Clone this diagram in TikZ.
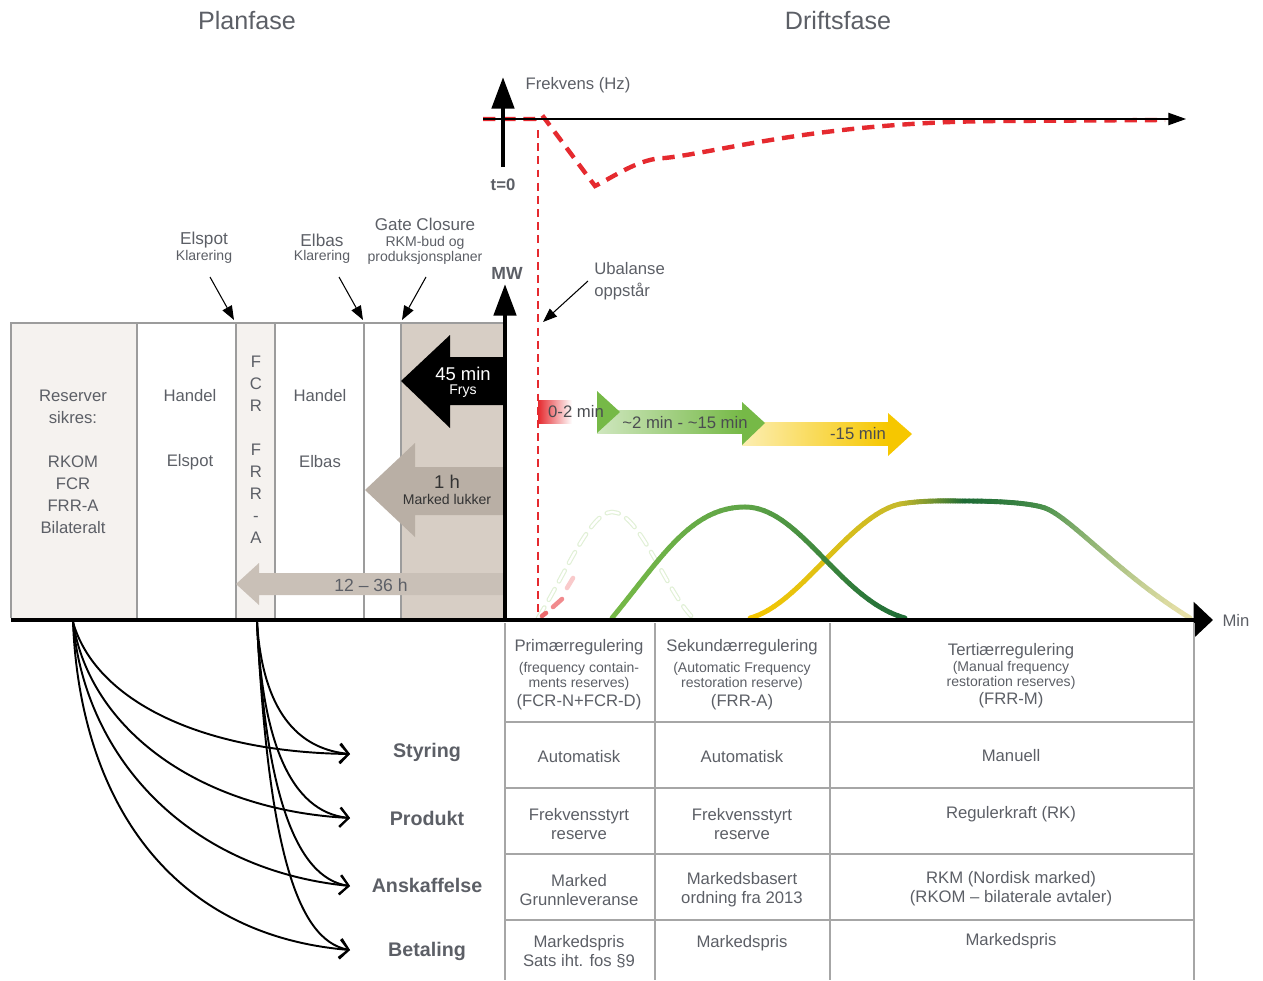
\documentclass[tikz,border=0pt]{standalone}
\usepackage{fontspec}
\setmainfont{Liberation Sans}
\usepackage{tikz}
\usetikzlibrary{arrows.meta, positioning}
\usepackage{xcolor}
\definecolor{txtgray}{HTML}{5C5F66}
\definecolor{bartxt}{HTML}{4A4C50}
\definecolor{boxline}{HTML}{9C9C9C}
\definecolor{boxlight}{HTML}{F5F2EF}
\definecolor{boxtan}{HTML}{D7CEC5}
\definecolor{arrtan}{HTML}{B9AFA5}
\definecolor{arrpale}{HTML}{C9C0B7}
\definecolor{freqred}{HTML}{E52A2F}
\definecolor{frcgreen}{HTML}{76B947}
\definecolor{midgreen}{HTML}{5FA447}
\definecolor{deepgreen}{HTML}{1D6B35}
\definecolor{olivegreen}{HTML}{C6B92C}
\definecolor{fadegreen}{HTML}{4C924C}
\definecolor{sunyellow}{HTML}{F6C700}
\definecolor{paleend}{HTML}{EEE4AC}
\definecolor{tabline}{HTML}{A6A6A6}

% colour running along one bezier piece
\newcommand{\gradcurve}[6]{%
	\foreach \i in {0,...,24}{%
		\pgfmathsetmacro{\ta}{\i/25}%
		\pgfmathsetmacro{\tb}{(\i+1)/25}%
		\pgfmathtruncatemacro{\mixp}{100-4*\i}%
		\colorlet{segcol}{#1!\mixp!#2}%
		\pgfsetstrokecolor{segcol}%
		\pgfpathcurvebetweentime{\ta}{\tb}{\pgfpointanchor{#3}{center}}{\pgfpointanchor{#4}{center}}{\pgfpointanchor{#5}{center}}{\pgfpointanchor{#6}{center}}%
		\pgfusepath{stroke}%
	}%
}

\tikzset{%
	txt/.style={text=txtgray, font=\fontsize{9.5}{12.5}\selectfont, inner sep=0pt},
	stagetxt/.style={txt, align=center},
	celltxt/.style={text=txtgray, font=\fontsize{9.5}{10.8}\selectfont, inner sep=0pt, align=center},
	smalltxt/.style={text=txtgray, font=\fontsize{8}{8.5}\selectfont, inner sep=0pt, align=center},
	phase/.style={text=txtgray, font=\fontsize{14.3}{16}\selectfont, inner sep=0pt},
	rowlbl/.style={text=txtgray, font=\fontsize{11.2}{13}\selectfont\bfseries, inner sep=0pt},
	bartext/.style={text=bartxt, font=\fontsize{9.5}{11}\selectfont, inner sep=0pt},
	mainaxis/.style={line width=2.8pt, -{Triangle[length=18pt,width=12.5pt]}},
	pointer/.style={line width=0.6pt, -{Triangle[length=8pt,width=6pt]}},
	fan/.style={line width=1.1pt, -{Straight Barb[length=5pt,width=11pt]}},
	freq/.style={freqred, line width=2.5pt, dash pattern=on 7pt off 4.5pt},
	stage/.style={draw=boxline, line width=0.8pt},
	tabrule/.style={tabline, line width=1.3pt},
}

\begin{document}
\begin{tikzpicture}[x=0.02cm, y=-0.02cm]
	\useasboundingbox (0,0) rectangle (1263,980);
	
	% Phase headings
	\node[phase] (plan) at (247,21) {Planfase};
	\node[phase] (drift) at (838,21) {Driftsfase};
	
	% Planning stages
	\fill[boxlight] (11,323) rectangle (137,618);
	\fill[boxlight] (236,323) rectangle (275,618);
	\fill[boxtan] (401,323) rectangle (503,618);
	\draw[stage] (11,618) -- (11,323) -- (503,323);
	\foreach \x in {137,236,275,364,401}
		\draw[stage] (\x,323) -- (\x,618);
	
	\node[stagetxt] (rsv) at (73,462) {Reserver\\sikres:\\[12.5pt]RKOM\\FCR\\FRR-A\\Bilateralt};
	\node[txt] (hspot) at (190,396) {Handel};
	\node[txt] (spot) at (190,462) {Elspot};
	\node[stagetxt] (fcrfrr) at (256,450) {F\\C\\R\\[12.5pt]F\\R\\R\\-\\A};
	\node[txt] (hbas) at (320,396) {Handel};
	\node[txt] (bas) at (320,462) {Elbas};
	
	% Lead time arrows
	\fill[arrpale] (503,573) -- (259,573) -- (259,563) -- (236,584) -- (259,605) -- (259,595) -- (503,595) -- cycle;
	\node[txt, font=\fontsize{10}{12}\selectfont] (lead) at (371,585) {12 -- 36 h};
	\fill[arrtan] (503,467) -- (415,467) -- (415,443) -- (365,490) -- (415,537) -- (415,515) -- (503,515) -- cycle;
	\node[bartext, text=black!80, font=\fontsize{10.5}{12}\selectfont] (close) at (447,482) {1 h};
	\node[smalltxt, text=black!80] (closelbl) at (447,499) {Marked lukker};
	\fill[black] (503,357) -- (450,357) -- (450,335) -- (401,381) -- (450,428) -- (450,405) -- (503,405) -- cycle;
	\node[bartext, text=white, font=\fontsize{10.5}{12}\selectfont] (frz) at (463,374) {45 min};
	\node[smalltxt, text=white] (frzlbl) at (463,391) {Frys};
	
	% Market milestones
	\node[txt, font=\fontsize{9.8}{11}\selectfont] (spotclr) at (204,240) {Elspot};
	\node[smalltxt] (spotclr2) at (204,257) {Klarering};
	\node[txt, font=\fontsize{9.8}{11}\selectfont] (basclr) at (322,240) {Elbas};
	\node[smalltxt] (basclr2) at (322,257) {Klarering};
	\node[txt, font=\fontsize{9.7}{11}\selectfont] (gate) at (425,224) {Gate Closure};
	\node[smalltxt] (gate2) at (425,250) {RKM-bud og\\produksjonsplaner};
	\coordinate (spotfrom) at (210,277);
	\coordinate (spotto) at (234,320);
	\coordinate (basfrom) at (339,277);
	\coordinate (basto) at (363,320);
	\coordinate (gatefrom) at (426,277);
	\coordinate (gateto) at (402,320);
	\draw[pointer] (spotfrom) -- (spotto);
	\draw[pointer] (basfrom) -- (basto);
	\draw[pointer] (gatefrom) -- (gateto);
	
	% Frequency response
	\draw[freq] (483,119) -- (535,119) -- (542,115) -- (548,123) -- (595,186) .. controls (615,176) and (640,158) .. (665,158) .. controls (720,152) and (820,122) .. (1000,121) -- (1165,120);
	\coordinate (tl) at (483,119);
	\coordinate (tr) at (1186,119);
	\draw[line width=0.6pt, -{Triangle[length=10pt,width=7pt]}] (tl) -- (tr);
	\coordinate (f0) at (503,167);
	\coordinate (ftop) at (503,77);
	\draw[mainaxis] (f0) -- (ftop);
	\node[txt] (hz) at (578,85) {Frekvens (Hz)};
	\node[txt, font=\fontsize{9.5}{11}\selectfont\bfseries] (tnull) at (503,185) {t=0};
	\draw[freqred, line width=1.2pt, dash pattern=on 4.5pt off 3pt] (538,130) -- (538,618);
	
	% Imbalance
	\node[txt, align=left, anchor=west] (ubal) at (594,281) {Ubalanse\\oppstår};
	\coordinate (ubalfrom) at (588,281);
	\coordinate (ubalto) at (543,322);
	\draw[pointer] (ubalfrom) -- (ubalto);
	
	% Activation time bars
	\shade[left color=freqred, right color=white] (538,400) rectangle (572,423);
	\shade[left color=frcgreen!35, right color=frcgreen] (597,410) rectangle (742,433);
	\fill[frcgreen] (597,391) -- (620,412) -- (597,433) -- cycle;
	\shade[left color=sunyellow!30, right color=sunyellow] (742,422) rectangle (888,445);
	\fill[frcgreen] (742,402) -- (765,423) -- (742,445) -- cycle;
	\fill[sunyellow] (888,413) -- (912,434) -- (888,456) -- cycle;
	\node[bartext] (t02) at (576,412) {0-2 min};
	\node[bartext] (t215) at (685,423) {\textasciitilde 2 min - \textasciitilde 15 min};
	\node[bartext] (t15) at (858,434) {-15 min};
	
	% Activated power
	\draw[frcgreen!22, line width=2.6pt, dash pattern=on 7pt off 5pt, line cap=round] (538,618) .. controls (565,575) and (590,512) .. (612,512) .. controls (640,512) and (665,590) .. (693,618);
	\draw[white, line width=1.3pt, dash pattern=on 7pt off 5pt, line cap=round] (538,618) .. controls (565,575) and (590,512) .. (612,512) .. controls (640,512) and (665,590) .. (693,618);
	\draw[freqred!70, line width=2.6pt, line cap=round] (542,616) -- (546,613);
	\draw[freqred!55, line width=2.6pt, line cap=round] (553,607) -- (562,599);
	\draw[freqred!25, line width=2.6pt, line cap=round] (567,588) -- (573,578);
	
	\coordinate (y0) at (750,618);
	\coordinate (y1) at (800,605);
	\coordinate (y2) at (850,515);
	\coordinate (y3) at (900,504);
	\coordinate (y4) at (925,500);
	\coordinate (y5) at (945,501);
	\coordinate (y6) at (965,501);
	\coordinate (y7) at (1000,501);
	\coordinate (y8) at (1030,503);
	\coordinate (y9) at (1045,508);
	\coordinate (y10) at (1070,517);
	\coordinate (y11) at (1120,575);
	\coordinate (y12) at (1190,618);
	\coordinate (g0) at (612,618);
	\coordinate (g1) at (660,560);
	\coordinate (g2) at (690,507);
	\coordinate (g3) at (745,507);
	\coordinate (g4) at (800,507);
	\coordinate (g5) at (840,600);
	\coordinate (g6) at (905,618);
	\begin{scope}[line width=2.8pt, line cap=round]
		\gradcurve{sunyellow}{olivegreen}{y0}{y1}{y2}{y3}
		\gradcurve{olivegreen}{deepgreen}{y3}{y4}{y5}{y6}
		\gradcurve{deepgreen}{fadegreen}{y6}{y7}{y8}{y9}
		\gradcurve{fadegreen}{paleend}{y9}{y10}{y11}{y12}
		\gradcurve{frcgreen}{midgreen}{g0}{g1}{g2}{g3}
		\gradcurve{midgreen}{deepgreen}{g3}{g4}{g5}{g6}
	\end{scope}
	
	% Axes
	\coordinate (origin) at (11,620);
	\coordinate (tend) at (1213,620);
	\draw[line width=2.8pt, -{Triangle[length=11pt,width=20pt]}] (origin) -- (tend);
	\node[txt] (mintxt) at (1236,620) {Min};
	\coordinate (mw0) at (505,620);
	\coordinate (mwtop) at (505,284);
	\draw[mainaxis] (mw0) -- (mwtop);
	\node[txt, font=\fontsize{10}{12}\selectfont\bfseries] (mw) at (507,273) {MW};
	
	% Reserve table
	\foreach \y in {722,788,854,920}
		\draw[tabrule] (505,\y) -- (1194,\y);
	\foreach \x in {505,655,830,1194}
		\draw[tabrule] (\x,623) -- (\x,980);
	
	\node[txt] (pri) at (579,647) {Primærregulering};
	\node[smalltxt] (prid) at (579,676) {(frequency contain-\\ments reserves)};
	\node[txt] (pric) at (579,702) {(FCR-N+FCR-D)};
	\node[txt] (sek) at (742,647) {Sekundærregulering};
	\node[smalltxt] (sekd) at (742,676) {(Automatic Frequency\\restoration reserve)};
	\node[txt] (sekc) at (742,702) {(FRR-A)};
	\node[txt] (ter) at (1011,651) {Tertiærregulering};
	\node[smalltxt] (terd) at (1011,675) {(Manual frequency\\restoration reserves)};
	\node[txt] (terc) at (1011,700) {(FRR-M)};
	
	\node[celltxt] (styr1) at (579,757) {Automatisk};
	\node[celltxt] (styr2) at (742,757) {Automatisk};
	\node[celltxt] (styr3) at (1011,756) {Manuell};
	\node[celltxt] (prod1) at (579,824) {Frekvensstyrt\\reserve};
	\node[celltxt] (prod2) at (742,824) {Frekvensstyrt\\reserve};
	\node[celltxt] (prod3) at (1011,814) {Regulerkraft (RK)};
	\node[celltxt] (ansk1) at (579,890) {Marked\\Grunnleveranse};
	\node[celltxt] (ansk2) at (742,890) {Markedsbasert\\ordning fra 2013};
	\node[celltxt] (ansk3) at (1011,889) {RKM (Nordisk marked)\\(RKOM -- bilaterale avtaler)};
	\node[celltxt] (bet1) at (579,952) {Markedspris\\Sats iht. fos §9};
	\node[celltxt] (bet2) at (742,943) {Markedspris};
	\node[celltxt] (bet3) at (1011,941) {Markedspris};
	
	% Row labels
	\node[rowlbl] (styr) at (427,752) {Styring};
	\node[rowlbl] (prod) at (427,818) {Produkt};
	\node[rowlbl] (anskaf) at (427,885) {Anskaffelse};
	\node[rowlbl] (betal) at (427,951) {Betaling};
	
	\coordinate (srcres) at (73,622);
	\coordinate (srcfcr) at (257,622);
	\coordinate (instyr) at (350,754);
	\coordinate (inprod) at (350,818);
	\coordinate (inansk) at (350,886);
	\coordinate (inbet) at (350,950);
	\draw[fan] (srcres) .. controls (95,700) and (200,752) .. (instyr);
	\draw[fan] (srcres) .. controls (90,730) and (200,810) .. (inprod);
	\draw[fan] (srcres) .. controls (85,760) and (190,870) .. (inansk);
	\draw[fan] (srcres) .. controls (80,800) and (170,935) .. (inbet);
	\draw[fan] (srcfcr) .. controls (262,700) and (290,748) .. (instyr);
	\draw[fan] (srcfcr) .. controls (262,740) and (290,812) .. (inprod);
	\draw[fan] (srcfcr) .. controls (265,790) and (295,878) .. (inansk);
	\draw[fan] (srcfcr) .. controls (268,840) and (295,940) .. (inbet);
	
\end{tikzpicture}
\end{document}
